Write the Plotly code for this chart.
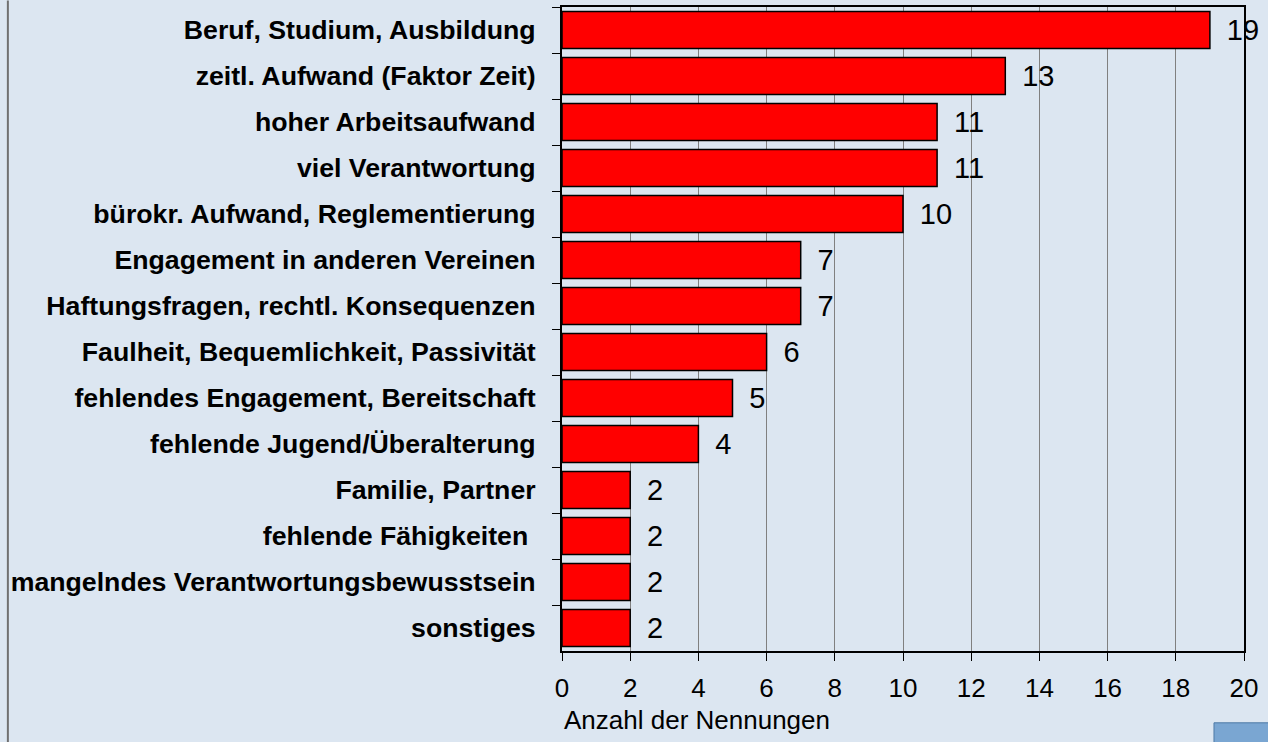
import plotly.graph_objects as go

categories = [
    "Beruf, Studium, Ausbildung",
    "zeitl. Aufwand (Faktor Zeit)",
    "hoher Arbeitsaufwand",
    "viel Verantwortung",
    "bürokr. Aufwand, Reglementierung",
    "Engagement in anderen Vereinen",
    "Haftungsfragen, rechtl. Konsequenzen",
    "Faulheit, Bequemlichkeit, Passivität",
    "fehlendes Engagement, Bereitschaft",
    "fehlende Jugend/Überalterung",
    "Familie, Partner",
    "fehlende Fähigkeiten\u00a0",
    "mangelndes Verantwortungsbewusstsein",
    "sonstiges",
]
counts = [19, 13, 11, 11, 10, 7, 7, 6, 5, 4, 2, 2, 2, 2]
x_ticks = [0, 2, 4, 6, 8, 10, 12, 14, 16, 18, 20]
x_title = "Anzahl der Nennungen"

BG = "#dce6f1"
FONT = "Arial, Liberation Sans, sans-serif"

fig = go.Figure()
fig.add_trace(go.Bar(
    x=counts,
    y=categories,
    orientation="h",
    marker=dict(color="#ff0000", line=dict(color="#000000", width=1.5)),
    text=counts,
    texttemplate="\u00a0\u2009%{x}",
    textposition="outside",
    textfont=dict(family=FONT, size=29, color="#000000"),
    cliponaxis=False,
    width=0.8,
))

fig.update_layout(
    width=1268,
    height=742,
    margin=dict(l=562, r=24, t=5, b=91),
    paper_bgcolor=BG,
    plot_bgcolor=BG,
    showlegend=False,
    font=dict(family=FONT, color="#000000"),
    bargap=0.2,
)

fig.update_xaxes(
    range=[0, 20],
    tickvals=x_ticks,
    ticktext=[str(v) for v in x_ticks],
    showgrid=True,
    gridcolor="#808080",
    gridwidth=1,
    zeroline=False,
    showline=True,
    linecolor="#000000",
    linewidth=2,
    mirror=True,
    ticks="outside",
    ticklen=8,
    tickcolor="#000000",
    tickwidth=1,
    ticklabelstandoff=5,
    tickfont=dict(family=FONT, size=26, color="#000000"),
)

fig.update_yaxes(
    autorange="reversed",
    showgrid=False,
    zeroline=False,
    showline=True,
    linecolor="#000000",
    linewidth=2,
    mirror=True,
    ticks="outside",
    tickson="boundaries",
    ticklen=8,
    tickcolor="#000000",
    tickwidth=1,
    ticklabelstandoff=19,
    tickfont=dict(family=FONT, size=26.7, color="#000000", weight="bold"),
)

fig.add_annotation(
    text=x_title,
    xref="paper", yref="paper",
    x=0, y=-0.107,
    xanchor="left", yanchor="middle",
    showarrow=False,
    font=dict(family=FONT, size=26, color="#000000"),
)

# left frame line and logo box
fig.add_shape(type="line", xref="paper", yref="paper",
              x0=-0.8125, x1=-0.8125, y0=-0.2, y1=1.01,
              line=dict(color="#707070", width=2))
fig.add_shape(type="rect", xref="paper", yref="paper",
              x0=0.956, x1=1.1, y0=-0.1115, y1=-0.2,
              fillcolor="#7aa6d2", line=dict(color="#4d79a6", width=1))

fig.write_html(
    "out.html",
    config={"displayModeBar": False},
    post_script="document.body.style.margin='0';document.body.style.overflow='hidden';",
)
